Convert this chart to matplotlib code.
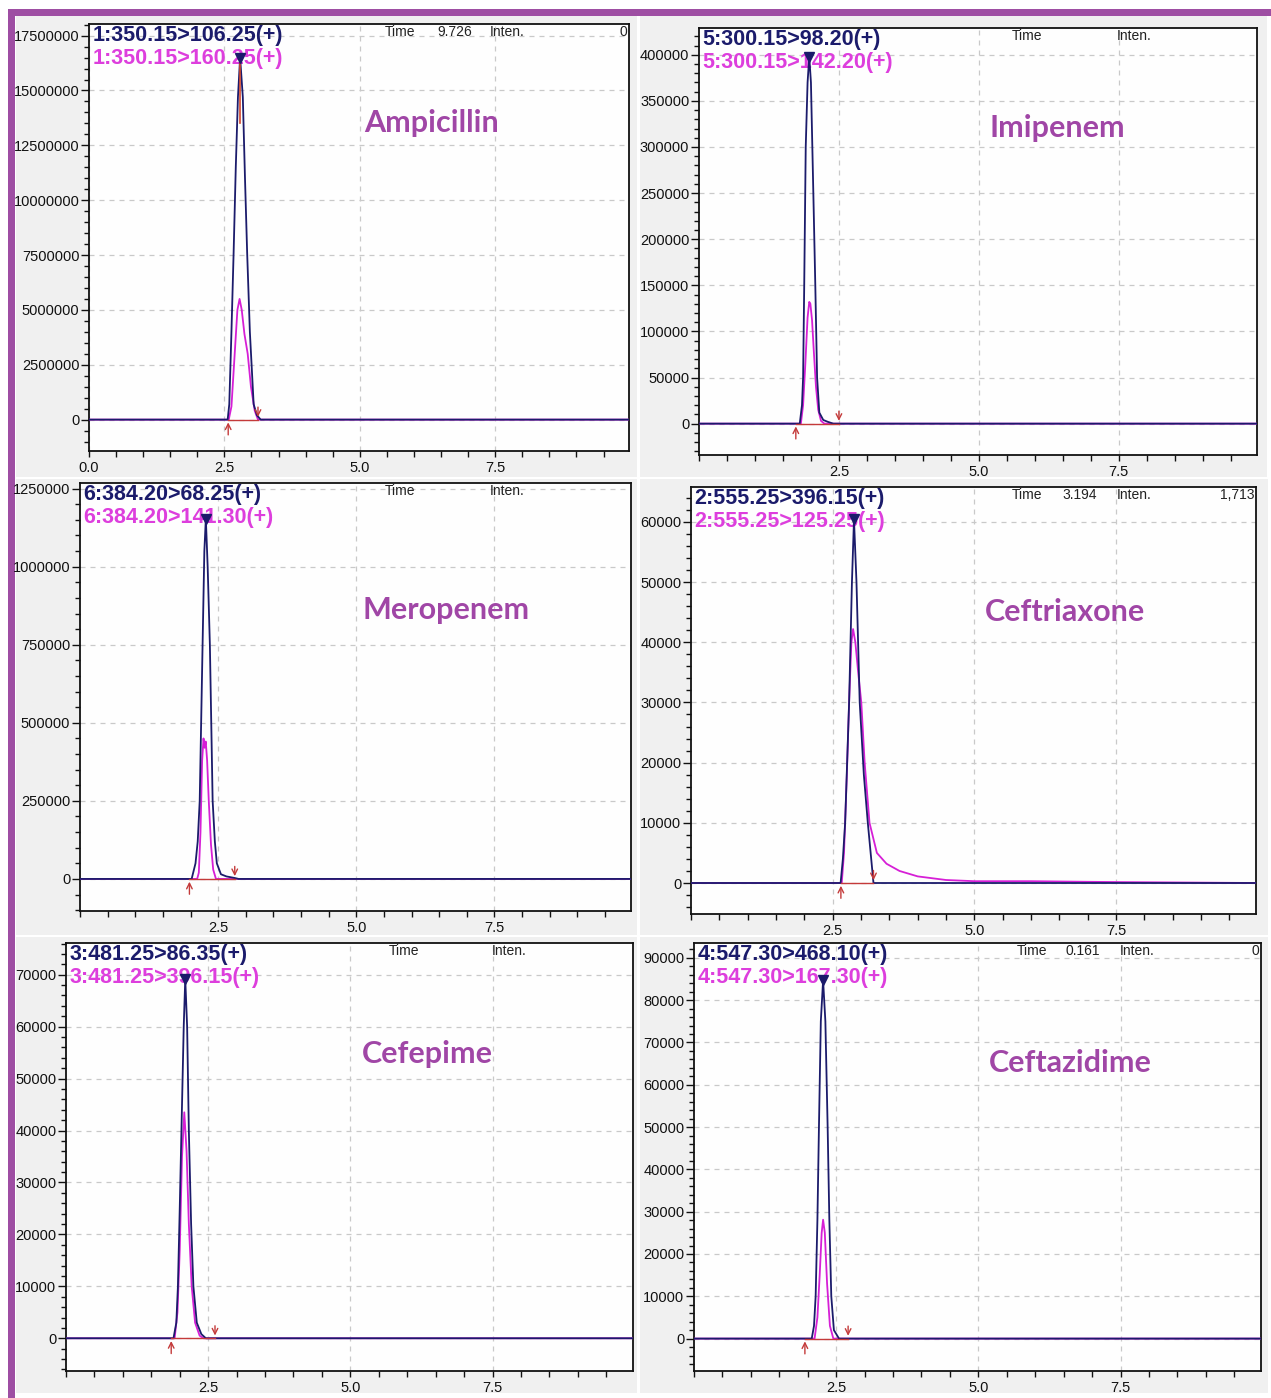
import matplotlib
matplotlib.use('Agg')
import matplotlib.pyplot as plt
import numpy as np
from matplotlib.patches import Rectangle
from matplotlib.ticker import MultipleLocator
from matplotlib import transforms

# ---------------- data ----------------
compounds = ["Ampicillin", "Imipenem", "Meropenem", "Ceftriaxone", "Cefepime", "Ceftazidime"]

quant_labels = ["1:350.15>106.25(+)", "5:300.15>98.20(+)", "6:384.20>68.25(+)",
                "2:555.25>396.15(+)", "3:481.25>86.35(+)", "4:547.30>468.10(+)"]
qual_labels = ["1:350.15>160.25(+)", "5:300.15>142.20(+)", "6:384.20>141.30(+)",
               "2:555.25>125.25(+)", "3:481.25>396.15(+)", "4:547.30>167.30(+)"]

time_values = ["9.726", "", "", "3.194", "", "0.161"]
inten_values = ["0", "", "", "1,713", "", "0"]

# Ampicillin
amp_q_t = [0, 2.56, 2.59, 2.63, 2.67, 2.71, 2.75, 2.79, 2.84, 2.88, 2.92, 2.97, 3.04, 3.10, 3.17, 10]
amp_q_i = [0, 0, 0.7e6, 4.0e6, 7.6e6, 11.5e6, 14.7e6, 16.5e6, 14.7e6, 11.0e6, 7.6e6, 4.0e6, 0.7e6, 0.2e6, 0, 0]
amp_c_t = [0, 2.58, 2.63, 2.69, 2.74, 2.78, 2.82, 2.87, 2.93, 2.99, 3.06, 3.12, 10]
amp_c_i = [0, 0, 0.6e6, 3.0e6, 5.0e6, 5.5e6, 5.0e6, 3.9e6, 3.0e6, 1.5e6, 0.4e6, 0, 0]

# Imipenem
imi_q_t = [0, 1.80, 1.84, 1.86, 1.88, 1.907, 1.94, 1.97, 2.00, 2.025, 2.05, 2.078, 2.11, 2.15, 2.22, 2.30, 2.40, 10]
imi_q_i = [0, 0, 20000, 50000, 150000, 300000, 370000, 398000, 370000, 300000, 230000, 150000, 50000, 12000, 4000, 2000, 0, 0]
imi_c_t = [0, 1.82, 1.86, 1.90, 1.94, 1.97, 1.99, 2.02, 2.05, 2.09, 2.13, 2.18, 2.24, 10]
imi_c_i = [0, 0, 20000, 65000, 115000, 132000, 130000, 112000, 80000, 40000, 15000, 3000, 0, 0]

# Meropenem
mer_q_t = [0, 2.02, 2.09, 2.13, 2.166, 2.19, 2.218, 2.25, 2.277, 2.31, 2.35, 2.40, 2.44, 2.476, 2.55, 2.65, 2.80, 2.87, 10]
mer_q_i = [0, 0, 50000, 120000, 250000, 480000, 750000, 1050000, 1154000, 1000000, 750000, 250000, 120000, 50000, 15000, 8000, 3000, 0, 0]
mer_c_t = [0, 2.12, 2.15, 2.18, 2.21, 2.235, 2.255, 2.275, 2.30, 2.33, 2.37, 2.41, 2.46, 10]
mer_c_i = [0, 0, 20000, 150000, 380000, 450000, 420000, 440000, 380000, 250000, 110000, 30000, 0, 0]

# Ceftriaxone
cex_q_t = [0, 2.64, 2.68, 2.72, 2.79, 2.84, 2.876, 2.92, 2.977, 3.05, 3.12, 3.18, 3.22, 10]
cex_q_i = [0, 0, 4000, 10000, 30000, 50000, 60400, 50000, 30000, 18000, 10000, 4000, 0, 0]
cex_c_t = [0, 2.66, 2.70, 2.75, 2.79, 2.83, 2.86, 2.90, 2.95, 3.005, 3.064, 3.15, 3.28, 3.45,
           3.68, 4.0, 4.5, 5.0, 6.0, 7.0, 7.6, 10]
cex_c_i = [0, 0, 5000, 18000, 30000, 40000, 42200, 40000, 35000, 30000, 20000, 10000, 5000, 3200,
           2000, 1100, 500, 300, 300, 200, 150, 0]

# Cefepime
cfp_q_t = [0, 1.89, 1.94, 1.968, 2.00, 2.03, 2.07, 2.097, 2.13, 2.16, 2.20, 2.24, 2.30, 2.38, 2.46, 10]
cfp_q_i = [0, 0, 3000, 10000, 25000, 40000, 60000, 69200, 60000, 40000, 22000, 10000, 3000, 800, 0, 0]
cfp_c_t = [0, 1.91, 1.96, 2.00, 2.04, 2.08, 2.12, 2.16, 2.21, 2.27, 2.35, 2.42, 10]
cfp_c_i = [0, 0, 5000, 17000, 35000, 43500, 36000, 22000, 10000, 3000, 500, 0, 0]

# Ceftazidime
caz_q_t = [0, 2.07, 2.11, 2.139, 2.17, 2.197, 2.23, 2.27, 2.31, 2.35, 2.38, 2.414, 2.46, 2.55, 10]
caz_q_i = [0, 0, 3000, 10000, 28000, 50000, 75000, 84700, 75000, 50000, 28000, 10000, 2000, 0, 0]
caz_c_t = [0, 2.12, 2.17, 2.21, 2.245, 2.27, 2.30, 2.34, 2.39, 2.45, 10]
caz_c_i = [0, 0, 5000, 15000, 25000, 28100, 25000, 13000, 3000, 0, 0]

quant_times = [amp_q_t, imi_q_t, mer_q_t, cex_q_t, cfp_q_t, caz_q_t]
quant_ints = [amp_q_i, imi_q_i, mer_q_i, cex_q_i, cfp_q_i, caz_q_i]
qual_times = [amp_c_t, imi_c_t, mer_c_t, cex_c_t, cfp_c_t, caz_c_t]
qual_ints = [amp_c_i, imi_c_i, mer_c_i, cex_c_i, cfp_c_i, caz_c_i]

# integration window start / end (min)
peak_start = [2.57, 1.73, 1.98, 2.645, 1.85, 1.95]
peak_end = [3.12, 2.50, 2.80, 3.22, 2.62, 2.71]

# y-axis ranges and tick steps
y_min = [-1.43e6, -34000, -102700, -5150, -6300, -7660]
y_max = [18.03e6, 429000, 1.268e6, 65800, 76100, 93500]
y_top_tick = [17.5e6, 400000, 1.25e6, 60000, 70000, 90000]
y_step = [2.5e6, 50000, 250000, 10000, 10000, 10000]
y_minor = [0.5e6, 10000, 50000, 2000, 2000, 2000]

# ---------------- layout (pixels) ----------------
W, H = 1271, 1398
# axes boxes: left, right, top, bottom
boxes = [(89, 629, 24, 451), (699, 1257, 28, 455),
         (80, 631, 483, 911), (691, 1256, 487, 914),
         (66, 633, 943, 1371), (694, 1261, 943, 1371)]
# grey screenshot regions: x0, x1, y0, y1
regions = [(16, 637, 16, 477), (640, 1267, 16, 477),
           (16, 637, 479, 935), (640, 1268, 479, 935),
           (16, 637, 937, 1393), (640, 1268, 937, 1393)]
name_pos = [(432, 123), (1057, 128), (446, 610), (1065, 612), (427, 1054), (1070, 1063)]
time_x = [0.548, 0.561, 0.553, 0.568, 0.570, 0.570]
tval_x = [0.645, 0.66, 0.66, 0.658, 0.66, 0.656]
inten_x = [0.743, 0.749, 0.744, 0.754, 0.751, 0.751]

NAVY = '#1b1b6b'
MAG = '#d61fd6'
MAG_TXT = '#dd3edd'
RED = '#c43a3a'
PURPLE = '#9e4ea3'
NAME_C = '#a046a6'
GREY = '#f0f0f0'

fig = plt.figure(figsize=(W / 100, H / 100), dpi=100)
fig.patch.set_facecolor('white')

def frect(x0, x1, y0, y1, color, z=0):
    fig.add_artist(Rectangle((x0 / W, 1 - y1 / H), (x1 - x0) / W, (y1 - y0) / H,
                             transform=fig.transFigure, facecolor=color,
                             edgecolor='none', zorder=z))

for (x0, x1, y0, y1) in regions:
    frect(x0, x1, y0, y1, GREY, z=-5)
# purple frame bars
frect(8, 1271, 9, 16, PURPLE, z=-4)
frect(8, 15, 9, 1398, PURPLE, z=-4)

lab_font = ['Liberation Sans', 'DejaVu Sans']

for k in range(6):
    l, r, t, b = boxes[k]
    ax = fig.add_axes([l / W, 1 - b / H, (r - l) / W, (b - t) / H])
    ax.set_facecolor('#fefefe')
    ax.set_xlim(0, 9.97)
    ax.set_ylim(y_min[k], y_max[k])
    ax.set_axisbelow(True)

    # grid
    ax.grid(True, which='major', linestyle=(0, (4, 4)), color='#c9c9c9', linewidth=0.9)

    # ticks
    if k == 0:
        ax.set_xticks([0, 2.5, 5.0, 7.5])
    else:
        ax.set_xticks([2.5, 5.0, 7.5])
    ax.xaxis.set_minor_locator(MultipleLocator(0.5))
    ax.set_xticklabels(['%.1f' % v for v in ax.get_xticks()])
    yt = np.arange(0, y_top_tick[k] + y_step[k] / 2, y_step[k])
    ax.set_yticks(yt)
    ax.set_yticklabels(['%d' % v for v in yt])
    ax.yaxis.set_minor_locator(MultipleLocator(y_minor[k]))
    ax.tick_params(axis='y', which='major', direction='out', length=6, width=1,
                   labelsize=10.5, pad=1, colors='#111111')
    ax.tick_params(axis='y', which='minor', direction='out', length=3.5, width=1, colors='#111111')
    ax.tick_params(axis='x', which='both', direction='out', length=4.5, width=1,
                   labelsize=10.5, pad=3, colors='#111111')
    for lab in ax.get_xticklabels() + ax.get_yticklabels():
        lab.set_family(lab_font)
    for sp in ax.spines.values():
        sp.set_linewidth(1.3)
        sp.set_color('#111111')

    # traces
    ax.plot(qual_times[k], qual_ints[k], color=MAG, lw=1.3, zorder=4)
    ax.plot(quant_times[k], quant_ints[k], color=NAVY, lw=1.3, zorder=5)

    # integration baseline & markers
    ax.plot([peak_start[k], peak_end[k]], [0, 0], color=RED, lw=1.0, zorder=6)
    ax.annotate('', xy=(peak_start[k], 0), xytext=(0, -13), textcoords='offset points',
                arrowprops=dict(arrowstyle='->', color=RED, lw=1.0, mutation_scale=10), zorder=7)
    ax.annotate('', xy=(peak_end[k], 0), xytext=(0, 11), textcoords='offset points',
                arrowprops=dict(arrowstyle='->', color=RED, lw=1.0, mutation_scale=10), zorder=7)
    ipk = int(np.argmax(quant_ints[k]))
    ax.plot([quant_times[k][ipk]], [quant_ints[k][ipk]], marker='v', color=NAVY,
            markersize=7.5, zorder=8, linestyle='none')
    if k == 0:
        ax.plot([quant_times[k][ipk] - 0.01, quant_times[k][ipk] - 0.01],
                [quant_ints[k][ipk], 13.5e6], color='#d2452a', lw=1.2, zorder=6)

    # channel labels
    tr1 = transforms.offset_copy(ax.transAxes, fig=fig, x=2.5, y=-1, units='points')
    ax.text(0, 1, quant_labels[k], transform=tr1, ha='left', va='top', fontsize=15.5,
            fontweight='bold', color=NAVY, family=lab_font, zorder=2)
    tr2 = transforms.offset_copy(ax.transAxes, fig=fig, x=2.5, y=-17, units='points')
    ax.text(0, 1, qual_labels[k], transform=tr2, ha='left', va='top', fontsize=15.5,
            fontweight='bold', color=MAG_TXT, family=lab_font, zorder=2)

    # Time / Inten. header
    tr3 = transforms.offset_copy(ax.transAxes, fig=fig, x=0, y=-6, units='points')
    ax.text(time_x[k], 1, 'Time', transform=tr3, ha='left', va='center', fontsize=10,
            color='#222222', family=lab_font, zorder=2)
    ax.text(inten_x[k], 1, 'Inten.', transform=tr3, ha='left', va='center', fontsize=10,
            color='#222222', family=lab_font, zorder=2)
    if time_values[k]:
        ax.text(tval_x[k], 1, time_values[k], transform=tr3, ha='left', va='center',
                fontsize=10, color='#222222', family=lab_font, zorder=2)
    if inten_values[k]:
        ax.text(0.997, 1, inten_values[k], transform=tr3, ha='right', va='center',
                fontsize=10, color='#222222', family=lab_font, zorder=2)

    # compound name
    nx, ny = name_pos[k]
    fig.text(nx / W, 1 - ny / H, compounds[k], ha='center', va='center', fontsize=22,
             fontweight='bold', color=NAME_C, family=['Lato', 'DejaVu Sans'], zorder=10)

fig.savefig('out.png', dpi=100, facecolor=fig.get_facecolor())
